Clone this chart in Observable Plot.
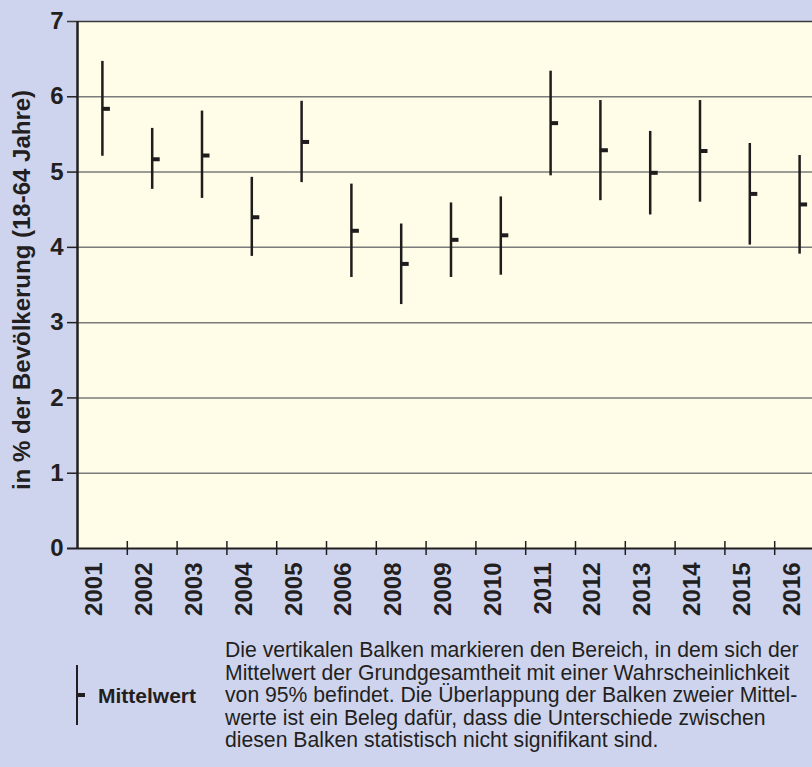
<!DOCTYPE html>
<html>
<head>
<meta charset="utf-8">
<script src="https://cdn.jsdelivr.net/npm/d3@7"></script>
<script src="https://cdn.jsdelivr.net/npm/@observablehq/plot@0.6"></script>
<style>
html, body { margin: 0; padding: 0; background: #cfd4ee; overflow: hidden; }
#wrap { position: relative; width: 812px; height: 767px; font-family: "Liberation Sans", Arial, sans-serif; color: #231f20; }
#chart svg { display: block; }
.legbar { position: absolute; left: 75.5px; top: 665px; width: 2.5px; height: 60px; background: #231f20; }
.legtick { position: absolute; left: 77px; top: 693px; width: 8px; height: 4px; background: #231f20; }
.legtext { position: absolute; left: 98px; top: 685px; font-size: 21px; line-height: 21px; font-weight: bold; }
.note { position: absolute; left: 225px; top: 639px; font-size: 21.2px; line-height: 22.5px; white-space: nowrap; }
</style>
</head>
<body>
<div id="wrap">
  <div id="chart"></div>
  <div class="legbar"></div>
  <div class="legtick"></div>
  <div class="legtext" id="legLabel"></div>
  <div class="note" id="note"></div>
</div>
<script>
const years = ["2001","2002","2003","2004","2005","2006","2008","2009","2010","2011","2012","2013","2014","2015","2016"];
const means = [5.84, 5.17, 5.22, 4.40, 5.40, 4.22, 3.78, 4.10, 4.16, 5.65, 5.29, 4.99, 5.28, 4.71, 4.57];
const lower = [5.21, 4.77, 4.65, 3.88, 4.86, 3.60, 3.24, 3.60, 3.63, 4.95, 4.62, 4.43, 4.60, 4.03, 3.91];
const upper = [6.47, 5.58, 5.81, 4.93, 5.94, 4.84, 4.31, 4.59, 4.67, 6.34, 5.95, 5.54, 5.95, 5.38, 5.22];
const yTicks = [0, 1, 2, 3, 4, 5, 6, 7];
const yLabel = "in % der Bevölkerung (18-64 Jahre)";
const legendLabel = "Mittelwert";
const noteLines = [
  "Die vertikalen Balken markieren den Bereich, in dem sich der",
  "Mittelwert der Grundgesamtheit mit einer Wahrscheinlichkeit",
  "von 95% befindet. Die Überlappung der Balken zweier Mittel-",
  "werte ist ein Beleg dafür, dass die Unterschiede zwischen",
  "diesen Balken statistisch nicht signifikant sind."
];

const data = years.map((year, i) => ({year, idx: i + 0.5, mean: means[i], lo: lower[i], hi: upper[i]}));
const bounds = years.map((_, i) => i + 1);
const ink = "#231f20";

const chart = Plot.plot({
  width: 812,
  height: 624,
  marginLeft: 77,
  marginRight: 0,
  marginTop: 21,
  marginBottom: 76,
  style: {background: "transparent", fontFamily: "'Liberation Sans', Arial, sans-serif", color: ink, overflow: "hidden"},
  x: {type: "linear", domain: [0, years.length], range: [77, 824], axis: null},
  y: {domain: [0, 7], axis: null},
  marks: [
    Plot.frame({fill: "#fffde8", stroke: null}),
    Plot.ruleY(yTicks.filter(d => d > 0 && d < 7), {stroke: "#7b7b7b", strokeWidth: 1.5}),
    Plot.ruleY(yTicks.filter(d => d > 0 && d < 7), {stroke: ink, strokeWidth: 1.5, x1: 0, x2: 0, insetLeft: -10}),
    Plot.ruleY([7], {stroke: "#3a3a3a", strokeWidth: 1.5, insetLeft: -10}),
    Plot.ruleY([0], {stroke: ink, strokeWidth: 2, insetLeft: -10}),
    Plot.ruleX([0], {y1: 0, y2: 7, stroke: ink, strokeWidth: 2.5}),
    Plot.ruleX(bounds, {y1: 0, y2: 0, insetTop: -7, insetBottom: -7, stroke: ink, strokeWidth: 1.5}),
    Plot.text(yTicks, {x: 0, y: d => d, text: d => String(d), textAnchor: "end", dx: -14, fontSize: 24, fontWeight: "bold", fill: ink}),
    Plot.text(data, {x: "idx", text: "year", frameAnchor: "bottom", dy: 14, rotate: -90, textAnchor: "end", fontSize: 24, fontWeight: "bold", fill: ink}),
    Plot.text([yLabel], {frameAnchor: "left", dx: -55, dy: 5, rotate: -90, textAnchor: "middle", fontSize: 24, fontWeight: "bold", fill: ink}),
    Plot.ruleX(data, {x: "idx", y1: "lo", y2: "hi", stroke: "#1f1c1d", strokeWidth: 2.5}),
    Plot.ruleY(data, {y: "mean", x1: "idx", x2: "idx", insetRight: -8, stroke: "#1f1c1d", strokeWidth: 4})
  ]
});
document.getElementById("chart").appendChild(chart);
document.getElementById("legLabel").textContent = legendLabel;
document.getElementById("note").innerHTML = noteLines.map(s => s.replace(/&/g, "&amp;").replace(/</g, "&lt;")).join("<br>");
</script>
</body>
</html>
